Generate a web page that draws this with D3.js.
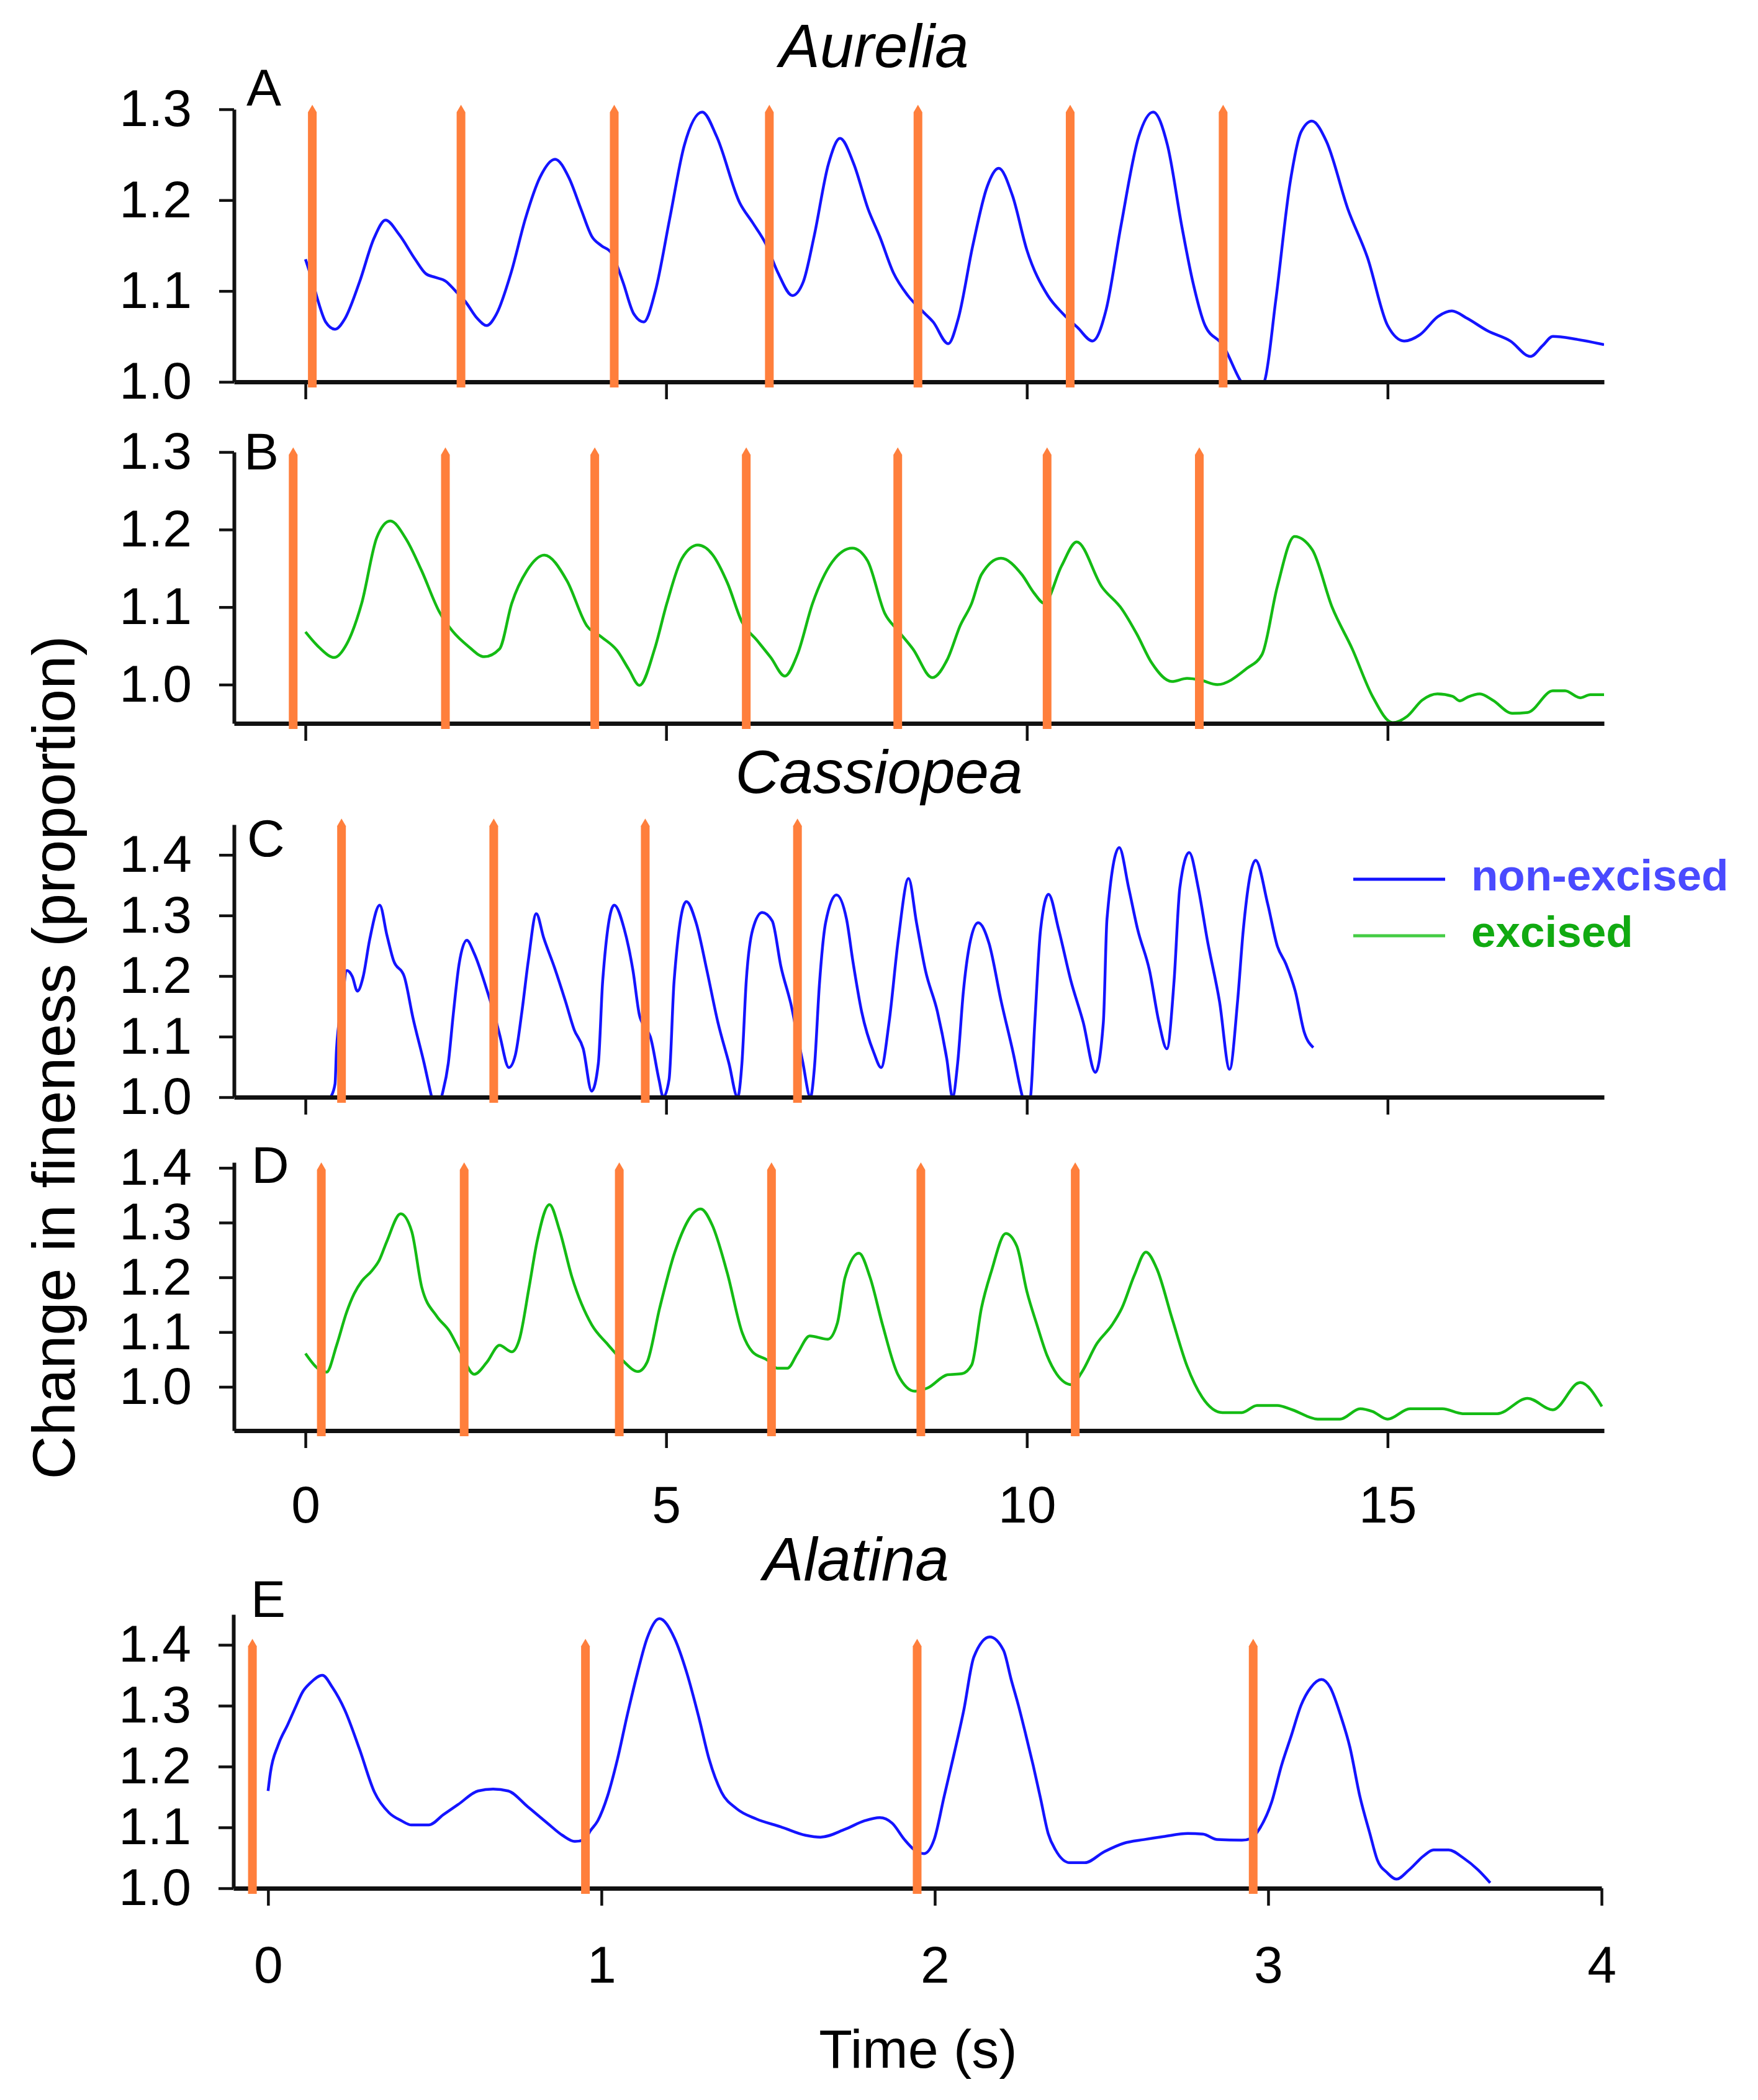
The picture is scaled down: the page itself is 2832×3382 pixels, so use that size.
<!DOCTYPE html>
<html>
<head>
<meta charset="utf-8">
<script src="https://cdn.jsdelivr.net/npm/d3@7"></script>
<style>
  body { margin: 0; background: #fff; }
  svg { display: block; }
  text { font-family: "Liberation Sans", Arial, sans-serif; fill: #000; }
</style>
</head>
<body>
<svg id="chart" width="2832" height="3382"></svg>
<script>
// Aurelia, non-excised (time s, fineness proportion)
const aureliaNonExcised = [
  [0.00,1.135],[0.10,1.11],[0.16,1.093],[0.28,1.066],[0.41,1.058],[0.55,1.07],[0.75,1.11],[0.95,1.158],
  [1.11,1.178],[1.30,1.162],[1.52,1.135],[1.67,1.119],[1.80,1.115],[1.94,1.111],[2.08,1.10],[2.22,1.088],
  [2.38,1.07],[2.51,1.062],[2.65,1.075],[2.85,1.12],[3.05,1.18],[3.25,1.225],[3.46,1.245],[3.65,1.225],
  [3.82,1.19],[3.97,1.16],[4.10,1.15],[4.24,1.142],[4.40,1.11],[4.55,1.075],[4.69,1.066],[4.85,1.10],
  [5.05,1.18],[5.25,1.26],[5.50,1.297],[5.70,1.27],[6.02,1.197],[6.20,1.175],[6.38,1.152],[6.55,1.12],
  [6.75,1.095],[6.90,1.11],[7.05,1.16],[7.25,1.24],[7.41,1.268],[7.60,1.24],[7.80,1.19],[7.96,1.16],
  [8.15,1.12],[8.35,1.095],[8.55,1.078],[8.70,1.066],[8.91,1.042],[9.05,1.07],[9.25,1.15],[9.45,1.215],
  [9.61,1.235],[9.80,1.205],[10.0,1.145],[10.29,1.095],[10.50,1.075],[10.70,1.06],[10.91,1.045],[11.10,1.08],
  [11.30,1.17],[11.55,1.27],[11.75,1.297],[11.95,1.26],[12.15,1.17],[12.30,1.11],[12.47,1.062],[12.72,1.04],
  [12.97,1.0],[13.12,0.985],[13.29,1.0],[13.45,1.09],[13.65,1.22],[13.80,1.275],[13.95,1.287],[14.15,1.265],
  [14.45,1.19],[14.72,1.137],[15.0,1.062],[15.23,1.045],[15.45,1.052],[15.70,1.072],[15.89,1.078],[16.10,1.07],
  [16.39,1.056],[16.70,1.045],[16.98,1.028],[17.15,1.04],[17.29,1.05],[17.61,1.047],[18.0,1.041]
];
const aureliaNonExcisedStim = [0.095, 2.156, 4.28, 6.43, 8.49, 10.60, 12.72];

// Aurelia, excised
const aureliaExcised = [
  [0.0,1.068],[0.19,1.048],[0.40,1.035],[0.57,1.052],[0.78,1.105],[0.99,1.19],[1.175,1.211],[1.40,1.187],
  [1.61,1.147],[1.855,1.094],[2.03,1.07],[2.25,1.05],[2.48,1.036],[2.69,1.046],[2.86,1.105],[3.07,1.147],
  [3.31,1.167],[3.625,1.134],[3.90,1.076],[4.11,1.061],[4.32,1.044],[4.48,1.02],[4.63,0.999],[4.84,1.046],
  [5.01,1.105],[5.22,1.163],[5.44,1.18],[5.64,1.168],[5.85,1.131],[6.05,1.081],[6.26,1.057],[6.45,1.035],
  [6.645,1.011],[6.82,1.039],[7.03,1.105],[7.30,1.158],[7.58,1.176],[7.79,1.16],[8.03,1.092],[8.21,1.07],
  [8.42,1.046],[8.69,1.009],[8.90,1.033],[9.075,1.076],[9.235,1.105],[9.37,1.142],[9.64,1.163],[9.93,1.142],
  [10.10,1.118],[10.24,1.105],[10.48,1.153],[10.69,1.184],[11.04,1.126],[11.32,1.097],[11.525,1.065],[11.73,1.028],
  [12.01,1.004],[12.22,1.008],[12.40,1.006],[12.64,1.0],[13.05,1.021],[13.26,1.039],[13.47,1.126],[13.71,1.191],
  [13.955,1.174],[14.23,1.10],[14.51,1.046],[14.79,0.985],[15.07,0.951],[15.27,0.959],[15.48,0.98],[15.69,0.988],
  [15.90,0.985],[16.0,0.979],[16.11,0.984],[16.28,0.988],[16.455,0.98],[16.73,0.963],[16.94,0.964],[17.29,0.992],
  [17.46,0.992],[17.67,0.983],[17.81,0.987],[18.0,0.987]
];
const aureliaExcisedStim = [-0.17, 1.94, 4.01, 6.11, 8.21, 10.28, 12.39];

// Cassiopea, non-excised
const cassiopeaNonExcised = [
  [0.348,1.0],[0.41,1.022],[0.43,1.078],[0.50,1.15],[0.576,1.209],[0.65,1.199],[0.72,1.175],[0.80,1.199],
  [0.89,1.26],[1.03,1.317],[1.13,1.267],[1.22,1.226],[1.37,1.199],[1.49,1.131],[1.645,1.056],[1.75,1.0],
  [1.82,0.97],[1.886,1.0],[1.98,1.056],[2.05,1.138],[2.13,1.22],[2.236,1.259],[2.34,1.237],[2.52,1.175],
  [2.61,1.14],[2.69,1.104],[2.82,1.049],[2.91,1.07],[3.00,1.141],[3.09,1.226],[3.20,1.303],[3.30,1.264],
  [3.455,1.213],[3.605,1.158],[3.726,1.111],[3.85,1.08],[3.967,1.010],[4.06,1.056],[4.12,1.192],[4.28,1.317],
  [4.42,1.277],[4.54,1.209],[4.63,1.135],[4.71,1.115],[4.78,1.100],[4.90,1.029],[4.96,1.0],[5.04,1.029],
  [5.11,1.192],[5.28,1.323],[5.415,1.288],[5.565,1.209],[5.716,1.124],[5.87,1.056],[5.99,1.0],[6.05,1.056],
  [6.11,1.192],[6.20,1.277],[6.33,1.305],[6.47,1.291],[6.59,1.216],[6.74,1.148],[6.82,1.10],[6.89,1.06],
  [7.0,1.0],[7.055,1.049],[7.124,1.186],[7.21,1.288],[7.36,1.334],[7.50,1.294],[7.586,1.226],[7.71,1.141],
  [7.88,1.073],[7.98,1.049],[8.09,1.124],[8.217,1.26],[8.36,1.361],[8.47,1.288],[8.594,1.209],[8.76,1.141],
  [8.89,1.063],[8.97,1.0],[9.04,1.056],[9.12,1.175],[9.22,1.26],[9.325,1.288],[9.475,1.254],[9.644,1.158],
  [9.81,1.073],[9.94,1.0],[10.0,0.98],[10.05,1.0],[10.11,1.124],[10.19,1.277],[10.30,1.335],[10.44,1.277],
  [10.61,1.192],[10.78,1.124],[10.95,1.041],[11.06,1.124],[11.11,1.294],[11.28,1.412],[11.41,1.346],[11.535,1.277],
  [11.70,1.209],[11.83,1.124],[11.94,1.08],[12.04,1.192],[12.12,1.346],[12.25,1.404],[12.375,1.346],[12.50,1.26],
  [12.67,1.158],[12.81,1.046],[12.92,1.158],[13.00,1.277],[13.17,1.391],[13.34,1.318],[13.47,1.25],[13.59,1.22],
  [13.72,1.175],[13.845,1.107],[13.97,1.082]
];
const cassiopeaNonExcisedStim = [0.50, 2.61, 4.71, 6.82];

// Cassiopea, excised
const cassiopeaExcised = [
  [0.0,1.061],[0.168,1.034],[0.293,1.027],[0.432,1.076],[0.57,1.136],[0.675,1.17],[0.78,1.193],[0.92,1.212],
  [1.022,1.231],[1.126,1.265],[1.32,1.316],[1.473,1.284],[1.612,1.182],[1.82,1.129],[1.994,1.102],[2.133,1.068],
  [2.34,1.023],[2.515,1.045],[2.69,1.076],[2.86,1.064],[2.966,1.087],[3.10,1.182],[3.21,1.265],[3.383,1.333],
  [3.52,1.287],[3.695,1.2],[3.97,1.113],[4.18,1.079],[4.39,1.049],[4.61,1.028],[4.736,1.045],[4.91,1.144],
  [5.12,1.246],[5.479,1.325],[5.64,1.295],[5.847,1.208],[6.056,1.098],[6.195,1.064],[6.40,1.049],[6.54,1.034],
  [6.68,1.034],[6.82,1.061],[6.99,1.093],[7.24,1.087],[7.374,1.117],[7.48,1.2],[7.673,1.244],[7.826,1.2],
  [8.0,1.113],[8.21,1.023],[8.45,0.992],[8.624,0.998],[8.90,1.022],[9.10,1.024],[9.235,1.04],[9.37,1.144],
  [9.51,1.212],[9.707,1.28],[9.86,1.257],[10.0,1.174],[10.14,1.113],[10.28,1.057],[10.415,1.023],[10.62,1.004],
  [10.762,1.027],[10.97,1.079],[11.18,1.113],[11.317,1.144],[11.49,1.204],[11.65,1.246],[11.80,1.216],[12.012,1.125],
  [12.22,1.038],[12.43,0.981],[12.71,0.953],[12.98,0.953],[13.19,0.966],[13.47,0.966],[13.68,0.958],[14.03,0.941],
  [14.34,0.941],[14.62,0.96],[14.79,0.955],[15.0,0.941],[15.31,0.96],[15.76,0.96],[16.04,0.951],[16.52,0.951],
  [16.94,0.979],[17.29,0.958],[17.67,1.008],[17.97,0.964]
];
const cassiopeaExcisedStim = [0.22, 2.20, 4.35, 6.46, 8.53, 10.67];

// Alatina, non-excised
const alatinaNonExcised = [
  [0.0,1.16],[0.007,1.19],[0.03,1.235],[0.059,1.269],[0.081,1.296],[0.104,1.323],[0.126,1.337],[0.163,1.35],
  [0.193,1.33],[0.23,1.293],[0.274,1.229],[0.319,1.158],[0.363,1.124],[0.40,1.111],[0.43,1.104],[0.482,1.104],
  [0.526,1.121],[0.571,1.138],[0.63,1.16],[0.675,1.163],[0.72,1.16],[0.779,1.134],[0.838,1.107],[0.883,1.087],
  [0.92,1.077],[0.95,1.08],[0.966,1.094],[0.989,1.111],[1.018,1.151],[1.048,1.212],[1.078,1.286],[1.108,1.354],
  [1.137,1.411],[1.174,1.443],[1.219,1.411],[1.256,1.354],[1.293,1.279],[1.323,1.212],[1.36,1.158],[1.405,1.131],
  [1.464,1.114],[1.538,1.101],[1.613,1.087],[1.657,1.084],[1.731,1.097],[1.79,1.111],[1.835,1.116],[1.872,1.107],
  [1.909,1.08],[1.939,1.063],[1.968,1.057],[1.998,1.08],[2.028,1.151],[2.057,1.219],[2.087,1.293],[2.117,1.38],
  [2.165,1.413],[2.206,1.391],[2.229,1.343],[2.251,1.30],[2.273,1.252],[2.295,1.202],[2.317,1.148],[2.34,1.09],
  [2.362,1.063],[2.405,1.042],[2.45,1.042],[2.508,1.06],[2.567,1.074],[2.627,1.08],[2.686,1.085],[2.759,1.09],
  [2.804,1.089],[2.848,1.08],[2.921,1.079],[2.95,1.082],[2.973,1.097],[3.01,1.141],[3.04,1.202],[3.07,1.252],
  [3.098,1.30],[3.128,1.33],[3.16,1.343],[3.186,1.33],[3.216,1.286],[3.245,1.232],[3.275,1.151],[3.305,1.09],
  [3.327,1.047],[3.356,1.026],[3.385,1.015],[3.422,1.03],[3.466,1.053],[3.496,1.063],[3.541,1.063],[3.585,1.05],
  [3.63,1.03],[3.666,1.009]
];
const alatinaNonExcisedStim = [-0.047, 0.952, 1.947, 2.955];

// tick values
const yTicks3 = [1.0, 1.1, 1.2, 1.3];
const yTicks4 = [1.0, 1.1, 1.2, 1.3, 1.4];
const xTicksLong = [0, 5, 10, 15];
const xTicksShort = [0, 1, 2, 3, 4];

const speciesTitles = ["Aurelia", "Cassiopea", "Alatina"];
const legendLabels = ["non-excised", "excised"];

const BLUE = "#1414ff";
const GREEN = "#14bb14";
const ORANGE = "#ff7f3c";

const svg = d3.select("#chart");
svg.append("rect").attr("width", 2832).attr("height", 3382).attr("fill", "#fff");

const xLong = d3.scaleLinear().domain([-0.99, 18]).range([377, 2584]);
const xShort = d3.scaleLinear().domain([-0.104, 4]).range([376, 2580]);

const panels = [
  { id: "A", data: aureliaNonExcised, stim: aureliaNonExcisedStim, stimTop: 1.305, color: BLUE,
    x: xLong, xTicks: xTicksLong, yDomain: [1.0, 1.3], yRange: [615, 176], yTicks: yTicks3,
    showX: false, letter: [397, 170] },
  { id: "B", data: aureliaExcised, stim: aureliaExcisedStim, stimTop: 1.306, color: GREEN,
    x: xLong, xTicks: xTicksLong, yDomain: [0.95, 1.3], yRange: [1165, 728], yTicks: yTicks3,
    showX: false, letter: [393, 756] },
  { id: "C", data: cassiopeaNonExcised, stim: cassiopeaNonExcisedStim, stimTop: 1.46, color: BLUE,
    x: xLong, xTicks: xTicksLong, yDomain: [1.0, 1.45], yRange: [1767, 1328], yTicks: yTicks4,
    showX: false, letter: [398, 1379] },
  { id: "D", data: cassiopeaExcised, stim: cassiopeaExcisedStim, stimTop: 1.41, color: GREEN,
    x: xLong, xTicks: xTicksLong, yDomain: [0.92, 1.41], yRange: [2304, 1872], yTicks: yTicks4,
    showX: true, letter: [405, 1905] },
  { id: "E", data: alatinaNonExcised, stim: alatinaNonExcisedStim, stimTop: 1.41, color: BLUE,
    x: xShort, xTicks: xTicksShort, yDomain: [1.0, 1.45], yRange: [3041, 2600], yTicks: yTicks4,
    showX: true, letter: [404, 2604] }
];

panels.forEach(drawPanel);
drawLabels();

function drawPanel(p) {
  const x = p.x;
  const y = d3.scaleLinear().domain(p.yDomain).range(p.yRange);
  const g = svg.append("g").attr("class", "panel-" + p.id);

  // axes
  const yAxis = d3.axisLeft(y)
    .tickValues(p.yTicks)
    .tickFormat(d3.format(".1f"))
    .tickSize(24)
    .tickSizeOuter(0)
    .tickPadding(44);
  const gy = g.append("g").attr("transform", `translate(${x.range()[0]},0)`).call(yAxis);

  const xAxis = d3.axisBottom(x)
    .tickValues(p.xTicks)
    .tickSize(28)
    .tickSizeOuter(0)
    .tickPadding(p.id === "E" ? 64 : 60)
    .tickFormat(p.showX ? d3.format("d") : () => "");
  const gx = g.append("g").attr("transform", `translate(0,${p.yRange[0]})`).call(xAxis);

  [gy, gx].forEach((ax) => {
    ax.select(".domain").attr("stroke", "#111").attr("stroke-width", 6);
    ax.selectAll(".tick line").attr("stroke", "#111").attr("stroke-width", 4.5);
    ax.selectAll(".tick text")
      .attr("fill", "#000")
      .style("font-size", "84px")
      .style("font-family", '"Liberation Sans", Arial, sans-serif');
  });
  gx.select(".domain").attr("stroke-width", 7);

  // clip area for the trace
  const clipId = "clip-" + p.id;
  g.append("clipPath").attr("id", clipId)
    .append("rect")
    .attr("x", x.range()[0])
    .attr("y", p.yRange[1] - 40)
    .attr("width", x.range()[1] - x.range()[0])
    .attr("height", p.yRange[0] - p.yRange[1] + 37);

  const line = d3.line()
    .x((d) => x(d[0]))
    .y((d) => y(d[1]))
    .curve(d3.curveMonotoneX);

  g.append("path")
    .datum(p.data)
    .attr("clip-path", `url(#${clipId})`)
    .attr("fill", "none")
    .attr("stroke", p.color)
    .attr("stroke-width", 4.5)
    .attr("stroke-linejoin", "round")
    .attr("d", line);

  // stimulus markers (orange bars with pointed tops)
  const yBottom = p.yRange[0] + 9;
  const yTop = y(p.stimTop);
  g.selectAll("path.stim")
    .data(p.stim)
    .join("path")
    .attr("class", "stim")
    .attr("fill", ORANGE)
    .attr("d", (t) => {
      const cx = x(t);
      return `M${cx - 7},${yBottom} L${cx - 7},${yTop + 12} L${cx},${yTop} L${cx + 7},${yTop + 12} L${cx + 7},${yBottom} Z`;
    });

  // panel letter
  g.append("text")
    .attr("x", p.letter[0])
    .attr("y", p.letter[1])
    .style("font-size", "84px")
    .text(p.id);
}

function drawLabels() {
  const titlePos = [[1408, 108], [1416, 1277], [1379, 2545]];
  speciesTitles.forEach((t, i) => {
    svg.append("text")
      .attr("x", titlePos[i][0])
      .attr("y", titlePos[i][1])
      .attr("text-anchor", "middle")
      .style("font-size", "98px")
      .style("font-style", "italic")
      .text(t);
  });

  // y axis title
  svg.append("text")
    .attr("transform", "translate(120,1703) rotate(-90)")
    .attr("text-anchor", "middle")
    .style("font-size", "97px")
    .text("Change in fineness (proportion)");

  // x axis title
  svg.append("text")
    .attr("x", 1479)
    .attr("y", 3330)
    .attr("text-anchor", "middle")
    .style("font-size", "88px")
    .text("Time (s)");

  // legend
  const legend = svg.append("g").attr("class", "legend");
  const legendColors = [BLUE, "#44cc44"];
  const legendText = ["#4a4aff", "#11aa11"];
  const legendY = [1416, 1507];
  legendLabels.forEach((lab, i) => {
    legend.append("line")
      .attr("x1", 2180).attr("x2", 2328)
      .attr("y1", legendY[i]).attr("y2", legendY[i])
      .attr("stroke", legendColors[i])
      .attr("stroke-width", 5);
    legend.append("text")
      .attr("x", 2370)
      .attr("y", legendY[i] + 18)
      .style("font-size", "71px")
      .style("font-weight", "bold")
      .style("fill", legendText[i])
      .text(lab);
  });
}
</script>
</body>
</html>
